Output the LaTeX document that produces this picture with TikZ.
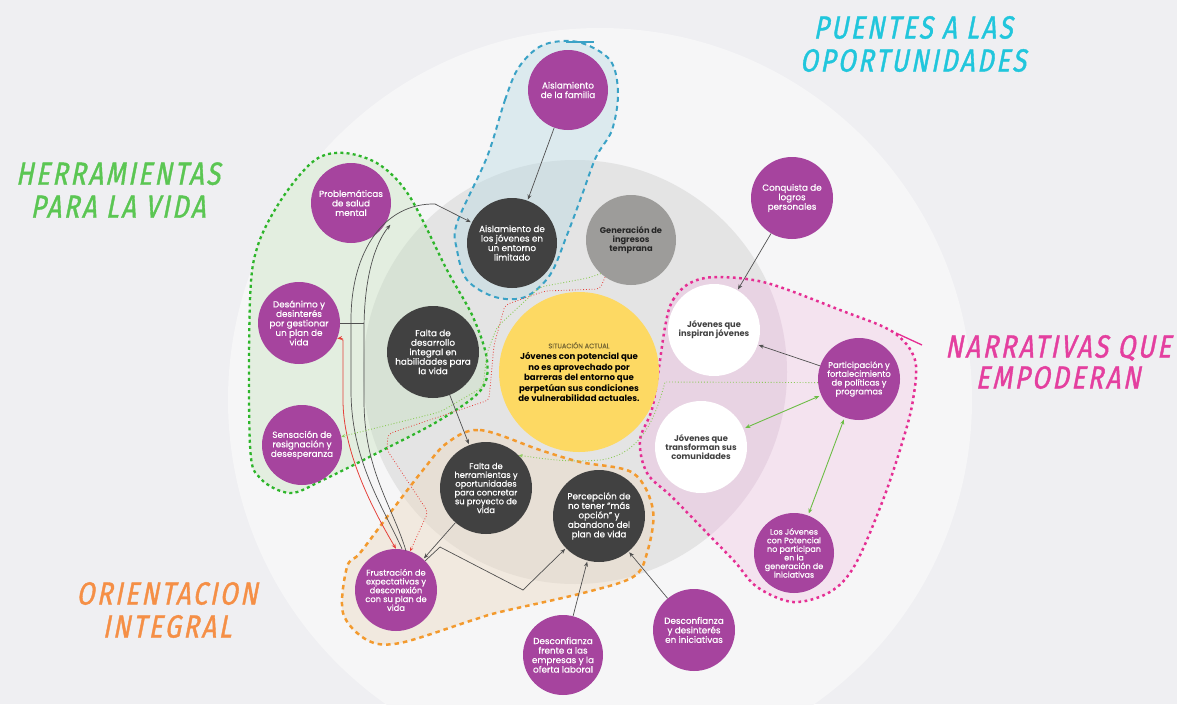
\documentclass[tikz,border=0pt]{standalone}
\usepackage{fontspec}
\setmainfont{Poppins}[UprightFeatures={FakeBold=0.6}]
\newfontfamily\hand[FakeSlant=0.2,FakeStretch=0.8,LetterSpace=8,FakeBold=1.2]{Fira Sans}
\usetikzlibrary{arrows.meta}
\definecolor{bgc}{HTML}{EFEFF2}
\definecolor{bigc}{HTML}{F6F6F7}
\definecolor{greyc}{HTML}{E4E4E4}
\definecolor{purp}{HTML}{A6449E}
\definecolor{darkn}{HTML}{414141}
\definecolor{genc}{HTML}{9D9C9A}
\definecolor{yel}{HTML}{FDD963}
\definecolor{bluec}{HTML}{3AA2C6}
\definecolor{bluef}{HTML}{DCEAEE}
\definecolor{bluefd}{HTML}{D1DFE3}
\definecolor{greend}{HTML}{2DB52A}
\definecolor{greenf}{HTML}{E3EEE0}
\definecolor{greenfd}{HTML}{D7E2D5}
\definecolor{orc}{HTML}{F39A2E}
\definecolor{orf}{HTML}{F1E9DF}
\definecolor{orfd}{HTML}{E7DFD5}
\definecolor{pinkc}{HTML}{E52E93}
\definecolor{pinkf}{HTML}{F4E3EF}
\definecolor{pinkfd}{HTML}{E8D3E3}
\definecolor{linec}{HTML}{505050}
\definecolor{redc}{HTML}{E5403A}
\definecolor{arrgreen}{HTML}{6CBD45}
\definecolor{dotgreen}{HTML}{8DCB5A}
\definecolor{cyanT}{HTML}{21C6DC}
\definecolor{greenT}{HTML}{5BC653}
\definecolor{pinkT}{HTML}{E43F9F}
\definecolor{orangeT}{HTML}{F58F46}
\definecolor{sitc}{HTML}{7A6A35}
\def\gshape{plot[smooth cycle,tension=0.55] coordinates{(250,300) (258,245) (283,197) (315,160) (345,153) (380,165) (410,197) (447,270) (473,317) (487,360) (481,390) (440,420) (383,450) (323,480) (290,493) (260,478) (250,445)}}
\def\bshape{plot[smooth cycle,tension=0.55] coordinates{(487,157) (505,100) (519,67) (543,45) (578,42) (610,60) (618,93) (612,130) (596,157) (582,195) (567,235) (550,275) (525,297) (495,297) (467,280) (457,250) (457,223)}}
\def\oshape{plot[smooth cycle,tension=0.55] coordinates{(447,443) (480,430) (540,450) (580,462) (633,473) (653,510) (647,553) (633,577) (583,593) (500,612) (473,620) (400,643) (367,640) (343,613) (347,567) (360,553) (390,513) (423,470)}}
\def\pshape{plot[smooth cycle,tension=0.55] coordinates{(665,327) (673,300) (690,283) (717,277) (767,283) (840,310) (893,332) (915,360) (913,400) (903,440) (883,500) (855,565) (830,592) (793,602) (757,587) (735,562) (707,533) (672,497) (647,473) (640,440) (653,405)}}
\def\greyclip{(575,372) circle (212pt)}
\begin{document}
\begin{tikzpicture}[x=1pt,y=-1pt,
  nd/.style={circle,inner sep=0pt,align=center,font=\fontsize{8.8}{9.5}\selectfont},
  pnode/.style={nd,fill=purp,text=white},
  dnode/.style={nd,fill=darkn,text=white},
  wnode/.style={nd,fill=white,text=darkn,font=\fontsize{8.3}{9.2}\selectfont\bfseries},
  conn/.style={draw=linec,line width=0.7pt,-{Stealth[length=5pt,width=4pt]},shorten >=1pt},
  title/.style={font=\hand\fontsize{32}{33}\selectfont,align=center,inner sep=0pt},
  gdash/.style={draw=greend,line width=2.3pt,dash pattern=on 3pt off 3.2pt},
  bdash/.style={draw=bluec,line width=2pt,dash pattern=on 5pt off 4pt},
  odash/.style={draw=orc,line width=2.5pt,dash pattern=on 4.5pt off 4pt},
  pdash/.style={draw=pinkc,line width=2.5pt,dash pattern=on 2.7pt off 3.5pt}]
\useasboundingbox (0,0) rectangle (1177,704);
\fill[bgc] (0,0) rectangle (1177,704);
\fill[bigc] (600,400) circle (372pt);
\fill[greyc] \greyclip;
% regions
\fill[greenf] \gshape;
\fill[bluef] \bshape;
\fill[orf] \oshape;
\fill[pinkf] \pshape;
\begin{scope}
\clip \greyclip;
\fill[greenfd] \gshape;
\fill[bluefd] \bshape;
\fill[orfd] \oshape;
\fill[pinkfd] \pshape;
\end{scope}
\draw[gdash] \gshape;
\draw[bdash] \bshape;
\draw[odash] \oshape;
\draw[pdash] \pshape;
\coordinate (bl1) at (566,42); \coordinate (bl2) at (594,42);
\draw[bluec,line width=1.3pt] (bl1) -- (bl2);
\coordinate (pl1) at (896,333); \coordinate (pl2) at (922,345);
\draw[pinkc,line width=1.3pt] (pl1) -- (pl2);
% titles
\node[title,text=cyanT] (t1) at (913,44) {PUENTES A LAS\\OPORTUNIDADES};
\node[title,text=greenT] (t2) at (118,190) {HERRAMIENTAS\\PARA LA VIDA};
\node[title,text=pinkT,font=\hand\fontsize{32}{31}\selectfont] (t3) at (1058,362) {NARRATIVAS QUE\\EMPODERAN};
\node[title,text=orangeT] (t4) at (167,610) {ORIENTACION\\INTEGRAL};
% nodes
\node[pnode,minimum size=80pt] (fam) at (568,90) {Aislamiento\\de la familia};
\node[dnode,minimum size=90pt] (jov) at (512,243) {Aislamiento de\\los jóvenes en\\un entorno\\limitado};
\node[nd,fill=genc,text=black!85,minimum size=90pt,font=\fontsize{8.3}{9}\selectfont\bfseries] (gen) at (631,240) {Generación de\\ingresos\\temprana};
\node[pnode,minimum size=80pt] (prob) at (351,203) {Problemáticas\\de salud\\mental};
\node[pnode,minimum size=82pt] (desa) at (299,323) {Desánimo y\\desinterés\\por gestionar\\un plan de\\vida};
\node[pnode,minimum size=80pt] (sens) at (302,445) {Sensación de\\resignación y\\desesperanza};
\node[dnode,minimum size=92pt] (fdes) at (433,352) {Falta de\\desarrollo\\integral en\\habilidades para\\la vida};
\node[nd,fill=yel,text=black,minimum size=160pt,font=\fontsize{8.6}{10.5}\selectfont\bfseries] (sit) at (579,372) {{\mdseries\fontsize{6.6}{8}\selectfont\color{sitc}SITUACIÓN ACTUAL}\\[1pt]Jóvenes con potencial que\\no es aprovechado por\\barreras del entorno que\\perpetúan sus condiciones\\de vulnerabilidad actuales.};
\node[dnode,minimum size=92pt,font=\fontsize{8.3}{8.8}\selectfont] (herr) at (486,488) {Falta de\\herramientas y\\oportunidades\\para concretar\\su proyecto de\\vida};
\node[dnode,minimum size=92pt] (perc) at (599,516) {Percepción de\\no tener “más\\opción” y\\abandono del\\plan de vida};
\node[pnode,minimum size=82pt,font=\fontsize{8.3}{8.8}\selectfont] (frus) at (396,590) {Frustración de\\expectativas y\\desconexión\\con su plan de\\vida};
\node[pnode,minimum size=80pt] (dc1) at (563,655) {Desconfianza\\frente a las\\empresas y la\\oferta laboral};
\node[pnode,minimum size=82pt] (dc2) at (694,630) {Desconfianza\\y desinterés\\en iniciativas};
\node[pnode,minimum size=80pt,font=\fontsize{8}{8.6}\selectfont] (pot) at (794,553) {Los Jóvenes\\con Potencial\\no participan\\en la\\generación de\\iniciativas};
\node[wnode,minimum size=92pt] (trans) at (701,447) {Jóvenes que\\transforman sus\\comunidades};
\node[wnode,minimum size=92pt] (insp) at (714,330) {Jóvenes que\\inspiran jóvenes};
\node[pnode,minimum size=82pt,font=\fontsize{8.3}{8.8}\selectfont] (part) at (859,379) {Participación y\\fortalecimiento\\de políticas y\\programas};
\node[pnode,minimum size=82pt] (conq) at (792,198) {Conquista de\\logros\\personales};
% grey connectors
\draw[conn] (fam) -- (jov);
\draw[conn] (fdes) -- (herr);
\draw[conn] (herr) -- (frus);
\draw[conn] (dc1) -- (perc);
\draw[conn] (dc2) -- (perc);
\draw[conn] (conq) -- (insp);
\draw[conn] (part) -- (insp);
\coordinate (fp1) at (440,547); \coordinate (fp2) at (523,590);
\draw[conn] (frus.45) -- (fp1) -- (fp2) -- (perc);
\coordinate (g1a) at (364,400); \coordinate (g1b) at (364,330); \coordinate (g1c) at (391,224);
\draw[conn] (frus.north) ++(10,2) .. controls (392,505) and (364,470) .. (g1a) -- (g1b) .. controls (364,275) and (376,242) .. (g1c);
\draw[draw=linec,line width=0.7pt] (desa.east) -- (g1b |- desa.east);
\coordinate (g2a) at (351,390); \coordinate (g2b) at (351,320); \coordinate (g2c) at (435,204);
\draw[conn] (frus.north) ++(6,0) .. controls (382,505) and (351,460) .. (g2a) -- (g2b) .. controls (351,250) and (385,203) .. (g2c) -- (jov);
% red solid double arrow
\coordinate (r1) at (343,400); \coordinate (r2) at (343,345);
\draw[redc,line width=0.8pt,{Stealth[length=5pt,width=4pt]}-{Stealth[length=5pt,width=4pt]}] (desa.-22) .. controls (343,338) .. (r2) -- (r1) .. controls (343,450) and (370,505) .. (frus.north);
% red dotted
\draw[redc,line width=0.8pt,dotted,rounded corners=4pt,-{Stealth[length=4pt,width=3.5pt]}] (gen.235) -- (600,289) -- (545,291) -- (505,305) -- (494,345) -- (489,400) -- (388,434) -- (387,450) -- (428,512) -- (frus.70);
% green dotted
\draw[dotgreen,line width=0.9pt,dotted,rounded corners=5pt,-{Stealth[length=4pt,width=3.5pt]}] (gen.228) -- (588,278) -- (540,287) -- (497,327) -- (487,353) -- (483,387) -- (440,412) -- (sens.12);
\draw[dotgreen,line width=0.9pt,dotted,-{Stealth[length=4pt,width=3.5pt]}] (part.185) -- (665,382) .. controls (655,420) and (640,455) .. (600,460) .. controls (565,463) and (540,458) .. (herr.45);
% green double arrows
\draw[arrgreen,line width=0.9pt,{Stealth[length=5pt,width=4pt]}-{Stealth[length=5pt,width=4pt]},shorten <=2pt,shorten >=2pt] (part) -- (trans);
\draw[arrgreen,line width=0.9pt,{Stealth[length=5pt,width=4pt]}-{Stealth[length=5pt,width=4pt]},shorten <=2pt,shorten >=2pt] (part) -- (pot);
\end{tikzpicture}
\end{document}
